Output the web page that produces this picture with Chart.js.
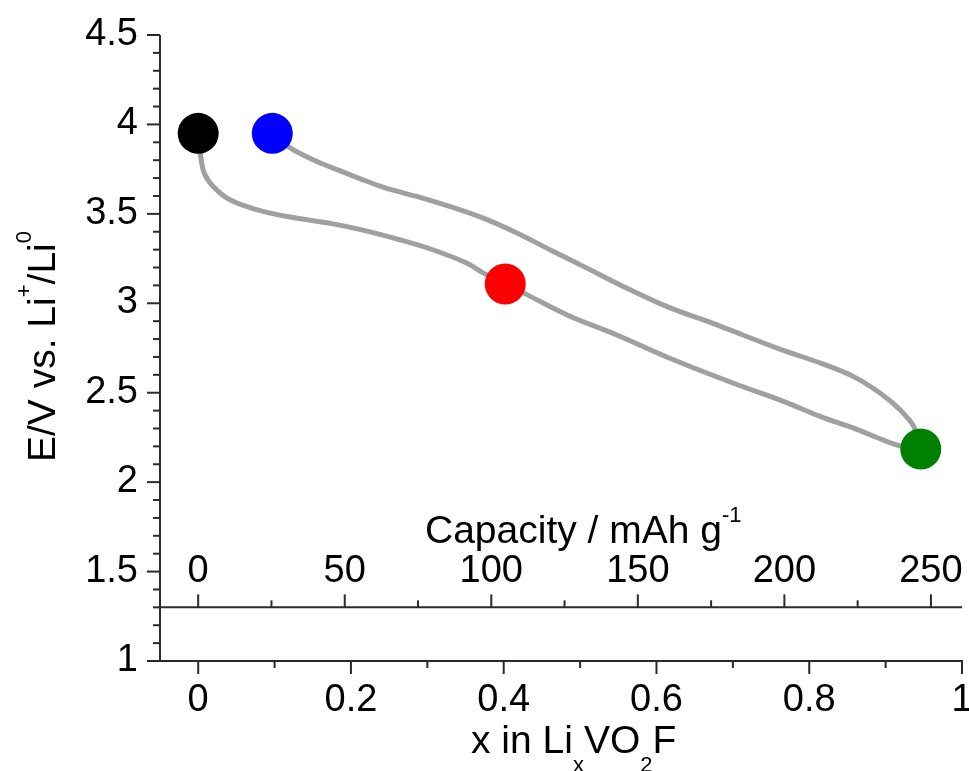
<!DOCTYPE html>
<html>
<head>
<meta charset="utf-8">
<script src="https://cdn.jsdelivr.net/npm/chart.js@4.4.1/dist/chart.umd.min.js"></script>
<style>
  html, body { margin: 0; padding: 0; background: #ffffff; }
  #c { display: block; }
</style>
</head>
<body>
<canvas id="c" width="969" height="771"></canvas>
<script>
// ---------------- data ----------------
const dischargeX = [0, 0.003, 0.008, 0.020, 0.042, 0.086, 0.130, 0.173, 0.217, 0.265, 0.308, 0.352, 0.373, 0.402, 0.431, 0.483, 0.548, 0.623, 0.701, 0.767, 0.815, 0.858, 0.902, 0.922, 0.946];
const dischargeE = [3.95, 3.83, 3.727, 3.652, 3.578, 3.512, 3.475, 3.447, 3.408, 3.354, 3.298, 3.224, 3.170, 3.108, 3.047, 2.935, 2.823, 2.683, 2.553, 2.450, 2.366, 2.302, 2.227, 2.199, 2.185];

const chargeX = [0.946, 0.937, 0.919, 0.893, 0.858, 0.815, 0.758, 0.679, 0.614, 0.557, 0.505, 0.461, 0.418, 0.374, 0.330, 0.287, 0.243, 0.210, 0.186, 0.151, 0.121, 0.097];
const chargeE = [2.185, 2.310, 2.404, 2.497, 2.590, 2.665, 2.749, 2.879, 2.981, 3.093, 3.205, 3.298, 3.392, 3.475, 3.540, 3.596, 3.648, 3.700, 3.740, 3.801, 3.867, 3.95];

const markerX = [0, 0.097, 0.402, 0.946];
const markerE = [3.95, 3.95, 3.108, 2.185];
const markerColors = ['#000000', '#0000ff', '#ff0000', '#008000'];

const xTicks = [0, 0.2, 0.4, 0.6, 0.8, 1];
const xMinorTicks = [0.1, 0.3, 0.5, 0.7, 0.9];
const capTicks = [0, 50, 100, 150, 200, 250];
const capMinorTicks = [25, 75, 125, 175, 225];
const yTicks = [1, 1.5, 2, 2.5, 3, 3.5, 4, 4.5];
const yMinorTicks = [1.1, 1.2, 1.3, 1.4, 1.6, 1.7, 1.8, 1.9, 2.1, 2.2, 2.3, 2.4, 2.6, 2.7, 2.8, 2.9, 3.1, 3.2, 3.3, 3.4, 3.6, 3.7, 3.8, 3.9, 4.1, 4.2, 4.3, 4.4];

const xMin = -0.05, xMax = 1;
const capPerX = 260.6;          // mAh g-1 per unit x
const yMin = 1, yMax = 4.5;
const capAxisE = 1.3;           // E value where the capacity axis sits

// ---------------- styling ----------------
const FONT = "'Liberation Sans', Arial, sans-serif";
const TICK_FONT = 38, TITLE_FONT = 39, SMALL_FONT = 22;
const AXIS_COLOR = '#2b2b2b';

function pts(xs, ys) { return xs.map((v, i) => ({ x: v, y: ys[i] })); }

function drawRich(ctx, parts, x, y) {
  let cx = x;
  for (const p of parts) {
    const size = p.small ? SMALL_FONT : TITLE_FONT;
    ctx.font = size + 'px ' + FONT;
    ctx.fillText(p.t, cx, y + (p.dy || 0));
    cx += ctx.measureText(p.t).width;
  }
}

const axesPlugin = {
  id: 'customAxes',
  afterDraw(chart) {
    const ctx = chart.ctx;
    const x = chart.scales.x, cap = chart.scales.cap, y = chart.scales.y;
    const left = x.getPixelForValue(xMin), right = x.getPixelForValue(xMax);
    const top = y.getPixelForValue(yMax), bottom = y.getPixelForValue(yMin);
    const capY = y.getPixelForValue(capAxisE);
    const MAJ = 13, MIN = 7;

    ctx.save();
    ctx.strokeStyle = AXIS_COLOR;
    ctx.lineWidth = 2;
    ctx.lineCap = 'butt';
    const seg = (x1, y1, x2, y2) => { ctx.beginPath(); ctx.moveTo(x1, y1); ctx.lineTo(x2, y2); ctx.stroke(); };

    // left axis
    seg(left, top, left, bottom + 1);
    yTicks.forEach(v => { const p = y.getPixelForValue(v); seg(left - MAJ, p, left, p); });
    yMinorTicks.forEach(v => { const p = y.getPixelForValue(v); seg(left - MIN, p, left, p); });

    // bottom axis (x in LixVO2F)
    seg(left - 1, bottom, right + 1, bottom);
    xTicks.forEach(v => { const p = x.getPixelForValue(v); seg(p, bottom, p, bottom + MAJ); });
    xMinorTicks.forEach(v => { const p = x.getPixelForValue(v); seg(p, bottom, p, bottom + MIN); });

    // capacity axis
    seg(left, capY, right, capY);
    capTicks.forEach(v => { const p = cap.getPixelForValue(v); seg(p, capY, p, capY - MAJ); });
    capMinorTicks.forEach(v => { const p = cap.getPixelForValue(v); seg(p, capY, p, capY - MIN); });

    // tick labels
    ctx.fillStyle = '#000000';
    ctx.font = TICK_FONT + 'px ' + FONT;
    ctx.textBaseline = 'alphabetic';
    ctx.textAlign = 'right';
    yTicks.forEach(v => { const p = y.getPixelForValue(v); ctx.fillText(String(v), left - 22, p + 10); });
    ctx.textAlign = 'center';
    xTicks.forEach(v => { const p = x.getPixelForValue(v); ctx.fillText(String(v), p, bottom + 50); });
    capTicks.forEach(v => { const p = cap.getPixelForValue(v); ctx.fillText(String(v), p, capY - 25); });

    // titles
    ctx.textAlign = 'left';
    drawRich(ctx, [
      { t: 'Capacity / mAh g' },
      { t: '-1', small: true, dy: -21 }
    ], 425, capY - 64);

    drawRich(ctx, [
      { t: 'x in Li' },
      { t: 'x', small: true, dy: 19 },
      { t: 'VO' },
      { t: '2', small: true, dy: 19 },
      { t: 'F' }
    ], 471, bottom + 92);

    ctx.save();
    ctx.translate(55, 462);
    ctx.rotate(-Math.PI / 2);
    drawRich(ctx, [
      { t: 'E/V vs. Li' },
      { t: '+', small: true, dy: -24 },
      { t: '/Li' },
      { t: '0', small: true, dy: -24 }
    ], 0, 0);
    ctx.restore();

    ctx.restore();
  }
};

new Chart(document.getElementById('c'), {
  type: 'scatter',
  data: {
    datasets: [
      {
        label: 'markers',
        data: pts(markerX, markerE),
        showLine: false,
        pointRadius: 20.5,
        pointHoverRadius: 20.5,
        pointBackgroundColor: markerColors,
        pointBorderWidth: 0,
        pointBorderColor: markerColors,
        order: 0,
        clip: false
      },
      {
        label: 'discharge',
        data: pts(dischargeX, dischargeE),
        showLine: true,
        borderColor: '#a0a0a0',
        borderWidth: 5,
        pointRadius: 0,
        tension: 0.35,
        borderJoinStyle: 'round',
        order: 1,
        clip: false
      },
      {
        label: 'charge',
        data: pts(chargeX, chargeE),
        showLine: true,
        borderColor: '#a0a0a0',
        borderWidth: 5,
        pointRadius: 0,
        tension: 0.35,
        borderJoinStyle: 'round',
        order: 2,
        clip: false
      }
    ]
  },
  options: {
    responsive: false,
    animation: false,
    devicePixelRatio: 1,
    layout: { autoPadding: false, padding: { left: 160, right: 7, top: 35, bottom: 110 } },
    plugins: { legend: { display: false }, tooltip: { enabled: false } },
    events: [],
    scales: {
      x: { type: 'linear', min: xMin, max: xMax, display: false },
      cap: { type: 'linear', axis: 'x', position: 'top', min: xMin * capPerX, max: xMax * capPerX, display: false },
      y: { type: 'linear', min: yMin, max: yMax, display: false }
    }
  },
  plugins: [axesPlugin]
});
</script>
</body>
</html>
